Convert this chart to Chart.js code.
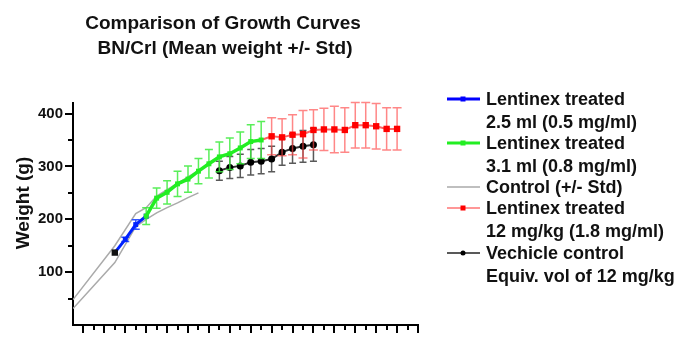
<!DOCTYPE html>
<html><head><meta charset="utf-8">
<script src="https://cdn.jsdelivr.net/npm/chart.js@4.4.1/dist/chart.umd.min.js"></script>
<style>html,body{margin:0;padding:0;background:#fff}#wrap{width:683px;height:347px;position:relative}</style>
</head><body><div id="wrap"><canvas id="c" width="683" height="347"></canvas></div>
<script>
// ---- data (x = time point index, y = mean weight in g, sd = std) ----
const blueX  = [4, 5, 6, 7];
const blueY  = [137, 162, 190, 206];
const blueSD = [0, 4, 9, 0];

const greenX  = [7, 8, 9, 10, 11, 12, 13, 14, 15, 16, 17, 18];
const greenY  = [206, 240, 251, 267, 276, 291, 305, 318, 324, 335, 347, 350];
const greenSD = [16, 19, 22, 24, 25, 24, 27, 28, 30, 30, 32, 35];

const redX  = [18, 19, 20, 21, 22, 23, 24, 25, 26, 27, 28, 29, 30, 31];
const redY  = [350, 357, 355, 360, 361, 369, 370, 370, 369, 378, 378, 376, 371, 371];
const redSD = [0, 35, 35, 38, 45, 38, 40, 44, 42, 43, 43, 43, 40, 40];

const blackX  = [14, 15, 16, 17, 18, 19, 20, 21, 22, 23];
const blackY  = [292, 298, 301, 308, 310, 314, 327, 334, 338, 341];
const blackSD = [18, 21, 22, 24, 24, 24, 25, 28, 30, 31];

const ctrlUpperX = [0, 4, 6, 7, 8, 9, 10, 11, 12];
const ctrlUpperY = [48, 150, 211, 222, 244, 256, 268, 280, 292];
const ctrlLowerX = [0, 4, 6, 7, 8, 9, 10, 11, 12];
const ctrlLowerY = [31, 118, 186, 200, 212, 222, 231, 241, 250];

const yTickValues = [0, 50, 100, 150, 200, 250, 300, 350, 400];
const yTickLabels = [100, 200, 300, 400];

const legendItems = [
  {lines: ['Lentinex treated', '2.5 ml (0.5 mg/ml)'], color: '#0000ff', lw: 3, marker: 'rect', mcolor: '#0000ff'},
  {lines: ['Lentinex treated', '3.1 ml (0.8 mg/ml)'], color: '#22ee22', lw: 3, marker: 'rect', mcolor: '#22ee22'},
  {lines: ['Control (+/- Std)'], color: '#aaaaaa', lw: 1.5, marker: null},
  {lines: ['Lentinex treated', '12 mg/kg (1.8 mg/ml)'], color: 'rgba(255,70,70,0.75)', lw: 1.5, marker: 'rect', mcolor: '#ff0000'},
  {lines: ['Vechicle control', 'Equiv. vol of 12 mg/kg'], color: '#222222', lw: 1.5, marker: 'circle', mcolor: '#000000'}
];

const pts = (xs, ys) => xs.map((x, i) => ({x: x, y: ys[i]}));
const FONT = "'Liberation Sans', Arial, Helvetica, sans-serif";

const errorBars = {
  id: 'errorBars',
  beforeDatasetDraw(chart, args) {
    const ds = chart.data.datasets[args.index];
    if (!ds.sd) return;
    const ctx = chart.ctx, xs = chart.scales.x, ys = chart.scales.y;
    ctx.save();
    ctx.strokeStyle = ds.errColor;
    ctx.lineWidth = ds.errWidth || 1.5;
    ds.data.forEach((p, i) => {
      const s = ds.sd[i];
      if (!s) return;
      const px = xs.getPixelForValue(p.x);
      const t = ys.getPixelForValue(p.y + s), b = ys.getPixelForValue(p.y - s);
      const w = ds.capW || 4;
      ctx.beginPath();
      ctx.moveTo(px, t); ctx.lineTo(px, b);
      ctx.moveTo(px - w, t); ctx.lineTo(px + w, t);
      ctx.moveTo(px - w, b); ctx.lineTo(px + w, b);
      ctx.stroke();
    });
    ctx.restore();
  }
};

const decor = {
  id: 'decor',
  afterDraw(chart) {
    const ctx = chart.ctx, xs = chart.scales.x, ys = chart.scales.y;
    const area = chart.chartArea;
    ctx.save();
    // tick marks
    ctx.strokeStyle = '#000'; ctx.lineWidth = 2;
    yTickValues.forEach(v => {
      if (v === 0) return;
      const y = Math.round(ys.getPixelForValue(v));
      const len = v % 100 === 0 ? 8 : 5;
      ctx.beginPath(); ctx.moveTo(area.left - len, y); ctx.lineTo(area.left, y); ctx.stroke();
    });
    for (let i = 1; i <= 33; i++) {
      const x = Math.round(xs.getPixelForValue(i));
      const len = i % 2 === 1 ? 8 : 5;
      ctx.beginPath(); ctx.moveTo(x, area.bottom); ctx.lineTo(x, area.bottom + len); ctx.stroke();
    }
    // titles
    ctx.fillStyle = '#111';
    ctx.font = 'bold 19px ' + FONT;
    ctx.textAlign = 'center'; ctx.textBaseline = 'alphabetic';
    ctx.fillText('Comparison of Growth Curves', 223, 29);
    ctx.fillText('BN/Crl (Mean weight +/- Std)', 225, 54);
    ctx.save();
    ctx.translate(29, 203); ctx.rotate(-Math.PI / 2);
    ctx.fillText('Weight (g)', 0, 0);
    ctx.restore();
    // legend
    const ys0 = [99, 143, 187, 208, 253];
    ctx.font = 'bold 18px ' + FONT;
    ctx.textAlign = 'left';
    legendItems.forEach((it, k) => {
      const ly = ys0[k];
      ctx.strokeStyle = it.color; ctx.lineWidth = it.lw;
      ctx.beginPath(); ctx.moveTo(447, ly); ctx.lineTo(480, ly); ctx.stroke();
      if (it.marker === 'rect') { ctx.fillStyle = it.mcolor; ctx.fillRect(460.5, ly - 2.5, 5, 5); }
      if (it.marker === 'circle') { ctx.fillStyle = it.mcolor; ctx.beginPath(); ctx.arc(463, ly, 2.5, 0, Math.PI * 2); ctx.fill(); }
      ctx.fillStyle = '#111';
      it.lines.forEach((t, j) => ctx.fillText(t, 486, ly + 6 + j * 23));
    });
    ctx.restore();
  }
};

new Chart(document.getElementById('c'), {
  type: 'line',
  data: {
    datasets: [
      {label: 'Lentinex treated 3.1 ml (0.8 mg/ml)', data: pts(greenX, greenY), sd: greenSD,
       borderColor: '#22ee22', backgroundColor: '#22ee22', borderWidth: 3.5,
       pointStyle: 'rect', pointRadius: 3.5, pointBorderWidth: 0, errColor: 'rgba(60,235,60,0.85)', capW: 4, errWidth: 1.5},
      {label: 'Lentinex treated 2.5 ml (0.5 mg/ml)', data: pts(blueX, blueY), sd: blueSD,
       borderColor: '#0022ff', backgroundColor: ['#111', '#0022ff', '#0022ff', '#0022ff'], borderWidth: 3,
       pointStyle: 'rect', pointRadius: [4.5, 3.5, 3.5, 3.5], pointBorderWidth: 0, errColor: '#3355ff', capW: 4, errWidth: 1.5},
      {label: 'Lentinex treated 12 mg/kg (1.8 mg/ml)', data: pts(redX, redY), sd: redSD,
       borderColor: 'rgba(255,60,60,0.8)', backgroundColor: '#ff0000', borderWidth: 2,
       pointStyle: 'rect', pointRadius: redX.map((x, i) => i === 0 ? 0 : 4.5), pointBorderWidth: 0,
       errColor: 'rgba(255,70,70,0.65)', capW: 4.5, errWidth: 1.5},
      {label: 'Vechicle control Equiv. vol of 12 mg/kg', data: pts(blackX, blackY), sd: blackSD,
       borderColor: '#333', backgroundColor: '#000', borderWidth: 2,
       pointStyle: 'circle', pointRadius: 3.5, pointBorderWidth: 0, errColor: 'rgba(60,60,60,0.85)', capW: 3.5, errWidth: 1.5},
      {label: 'Control +Std', data: pts(ctrlUpperX, ctrlUpperY), borderColor: '#aaaaaa', borderWidth: 1.5, pointRadius: 0},
      {label: 'Control -Std', data: pts(ctrlLowerX, ctrlLowerY), borderColor: '#aaaaaa', borderWidth: 1.5, pointRadius: 0}
    ]
  },
  options: {
    responsive: false,
    animation: false,
    layout: {padding: {top: 103, right: 265, left: 0, bottom: 0}},
    plugins: {legend: {display: false}, tooltip: {enabled: false}, title: {display: false}},
    scales: {
      x: {
        type: 'linear', min: 0, max: 33,
        grid: {display: false, drawTicks: false},
        border: {display: true, color: '#000', width: 2},
        ticks: {display: false, stepSize: 1},
        afterFit: s => { s.height = 22; }
      },
      y: {
        min: 0, max: 420,
        grid: {display: false, drawTicks: false},
        border: {display: true, color: '#000', width: 2},
        afterBuildTicks: s => { s.ticks = yTickValues.map(v => ({value: v})); },
        ticks: {
          padding: 10, color: '#111', autoSkip: false,
          font: {family: FONT, size: 15, weight: 'bold'},
          callback: v => yTickLabels.includes(v) ? String(v) : ''
        },
        afterFit: s => { s.width = 73; }
      }
    }
  },
  plugins: [errorBars, decor]
});
</script>
</body></html>
